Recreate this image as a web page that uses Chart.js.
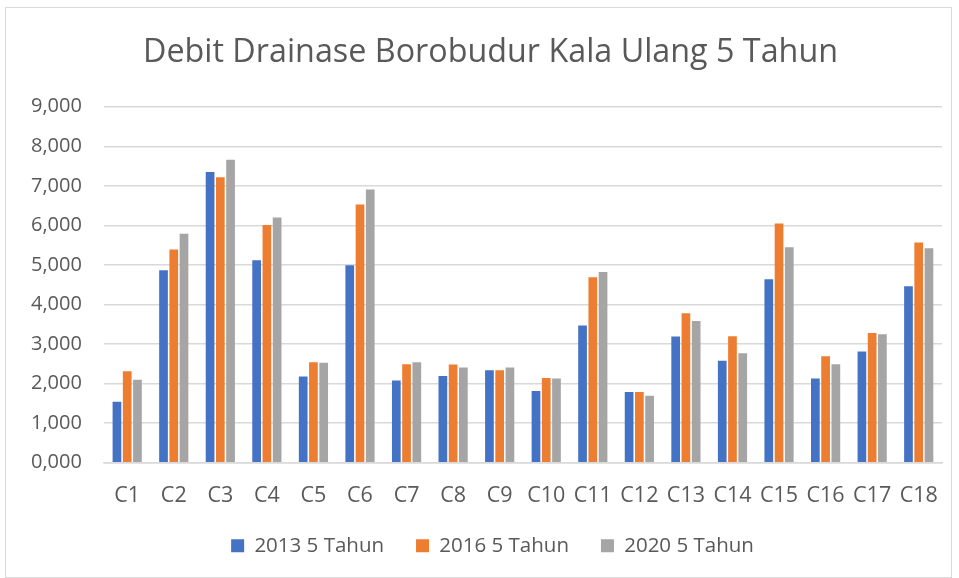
<!DOCTYPE html>
<html>
<head>
<meta charset="utf-8">
<script src="https://cdn.jsdelivr.net/npm/chart.js@4/dist/chart.umd.min.js"></script>
<style>
  body { margin: 0; background: #fff; }
  #wrap { position: absolute; left: 5px; top: 7px; width: 945px; height: 569px; border: 1px solid #d9d9d9; }
</style>
</head>
<body>
<div id="wrap"><canvas id="myChart"></canvas></div>
<script>
// カテゴリ
const categories = ['C1','C2','C3','C4','C5','C6','C7','C8','C9','C10','C11','C12','C13','C14','C15','C16','C17','C18'];
// 系列データ
const debit2013 = [1.542, 4.864, 7.350, 5.120, 2.180, 4.990, 2.080, 2.190, 2.340, 1.810, 3.470, 1.790, 3.190, 2.580, 4.640, 2.130, 2.810, 4.460];
const debit2016 = [2.314, 5.390, 7.220, 6.010, 2.540, 6.530, 2.490, 2.480, 2.340, 2.140, 4.690, 1.790, 3.780, 3.200, 6.050, 2.690, 3.280, 5.570];
const debit2020 = [2.100, 5.790, 7.660, 6.200, 2.530, 6.910, 2.540, 2.410, 2.410, 2.130, 4.820, 1.690, 3.580, 2.770, 5.450, 2.490, 3.250, 5.420];
const seriesLabels = ['2013 5 Tahun', '2016 5 Tahun', '2020 5 Tahun'];
const colors = ['#4472c4', '#ed7d31', '#a5a5a5'];
// Y軸の目盛り
const yMin = 0, yMax = 9, yStep = 1;

const font = "'Open Sans', 'Noto Sans', sans-serif";

// タイトルと凡例を少し右へずらす
const shiftRight = {
  id: 'shiftRight',
  afterLayout(chart) {
    if (chart.titleBlock) { chart.titleBlock.left += 15; chart.titleBlock.right += 15; }
    if (chart.legend) { chart.legend.left += 17; chart.legend.right += 17; }
  },
};

const ctx = document.getElementById('myChart').getContext('2d');
const chart = new Chart(ctx, {
  type: 'bar',
  data: {
    labels: categories,
    datasets: [debit2013, debit2016, debit2020].map((d, i) => ({
      label: seriesLabels[i],
      data: d,
      backgroundColor: colors[i],
      categoryPercentage: 0.66,
      barPercentage: 0.85,
    })),
  },
  plugins: [shiftRight],
  options: {
    responsive: true,
    maintainAspectRatio: false,
    animation: false,
    layout: { padding: { left: 3, right: 9, top: 0, bottom: 11 } },
    plugins: {
      title: {
        display: true,
        text: 'Debit Drainase Borobudur Kala Ulang 5 Tahun',
        color: '#595959',
        font: { family: font, size: 32.3, weight: 'normal' },
        padding: { top: 25, bottom: 35 },
      },
      legend: {
        position: 'bottom',
        labels: {
          color: '#595959',
          font: { family: font, size: 20.5 },
          boxWidth: 13,
          boxHeight: 13,
          padding: 32,
        },
      },
      tooltip: { enabled: false },
    },
    scales: {
      x: {
        grid: { display: false },
        border: { color: '#d9d9d9', width: 1.5 },
        ticks: { color: '#595959', font: { family: font, size: 21.5 }, maxRotation: 0, autoSkip: false, padding: 12 },
        // 凡例との間隔を詰める
        afterFit: scale => { scale.height -= 17; },
      },
      y: {
        min: yMin,
        max: yMax,
        grid: { color: '#d9d9d9', lineWidth: 1.5, drawTicks: false },
        border: { display: false },
        ticks: {
          stepSize: yStep,
          color: '#595959',
          font: { family: font, size: 20 },
          padding: 22,
          callback: v => v.toFixed(3).replace('.', ','),
        },
      },
    },
  },
});
</script>
</body>
</html>
